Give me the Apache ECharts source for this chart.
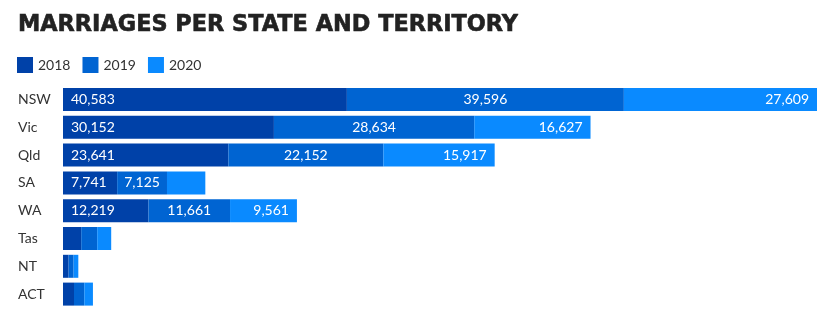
<!DOCTYPE html>
<html><head><meta charset="utf-8">
<script src="https://cdn.jsdelivr.net/npm/echarts@6/dist/echarts.min.js"></script>
<style>html,body{margin:0;padding:0;background:#fff;}#c{width:824px;height:322px;}</style>
</head><body><div id="c"></div>
<script>
var categories = ['NSW','Vic','Qld','SA','WA','Tas','NT','ACT'];
var years = ['2018','2019','2020'];
var v2018 = [40583, 30152, 23641, 7741, 12219, 2600, 800, 1570];
var v2019 = [39596, 28634, 22152, 7125, 11661, 2290, 720, 1470];
var v2020 = [27609, 16627, 15917, 5480, 9561, 2000, 670, 1240];
var colors = ['#0041a8', '#0064d2', '#0a8aff'];
var positions = ['insideLeft', 'inside', 'insideRight'];
var seriesData = [v2018, v2019, v2020];

var chart = echarts.init(document.getElementById('c'), null, {renderer: 'canvas'});
var font = 'Lato, "Open Sans", sans-serif';
chart.setOption({
  animation: false,
  title: {
    text: 'MARRIAGES PER STATE AND TERRITORY',
    left: 18, top: 14, padding: 0,
    textStyle: {fontFamily: '"DejaVu Sans"', fontWeight: 'bold', fontSize: 22.4, color: '#222',
      textBorderColor: '#222', textBorderWidth: 0.6}
  },
  legend: {
    left: 17, top: 57, padding: 0, itemWidth: 16, itemHeight: 16, itemGap: 12,
    icon: 'rect',
    textStyle: {fontFamily: font, fontSize: 14, color: '#333'},
    data: years
  },
  grid: {left: 63, right: 7, top: 85.6, bottom: 14, containLabel: false},
  xAxis: {type: 'value', max: 'dataMax', show: false},
  yAxis: {
    type: 'category', data: categories, inverse: true,
    axisLine: {show: false}, axisTick: {show: false},
    axisLabel: {align: 'left', margin: 45, fontFamily: font, fontSize: 14, color: '#333'}
  },
  series: years.map(function (y, i) {
    return {
      name: y, type: 'bar', stack: 'total', barWidth: 23,
      data: seriesData[i],
      itemStyle: {color: colors[i]},
      label: {
        show: true, position: positions[i], distance: 8,
        fontFamily: font, fontSize: 14, color: '#fff',
        formatter: function (p) { return p.value >= 7000 ? p.value.toLocaleString('en-US') : ''; }
      }
    };
  })
});
</script></body></html>
